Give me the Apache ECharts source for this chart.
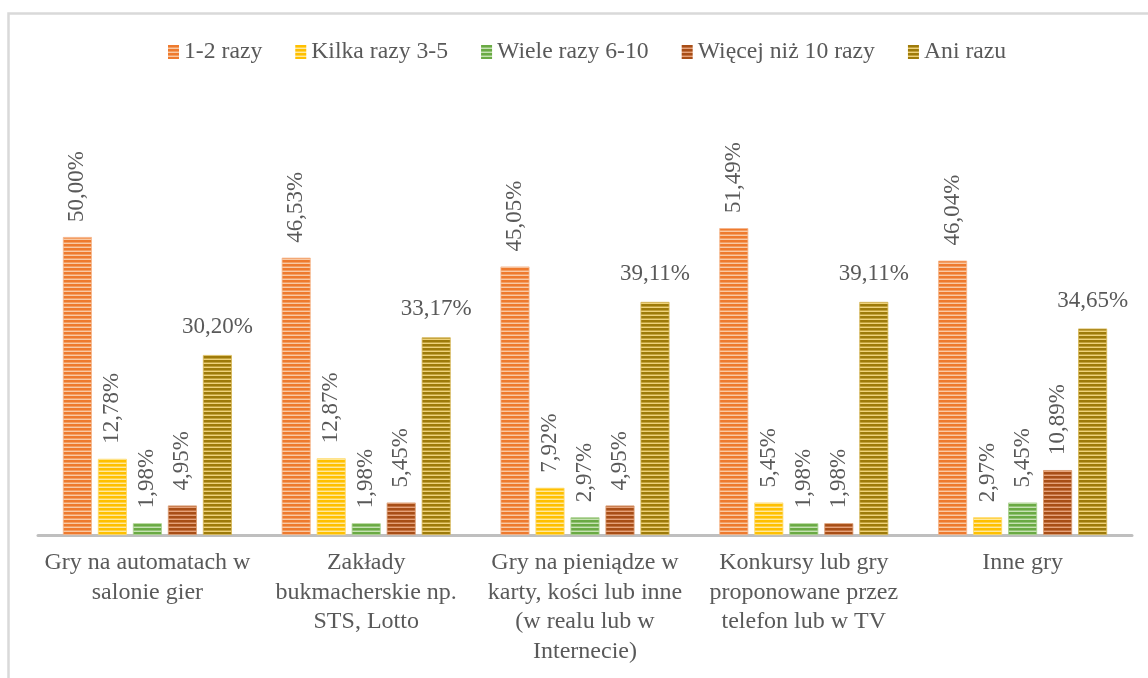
<!DOCTYPE html>
<html>
<head>
<meta charset="utf-8">
<script src="https://cdn.jsdelivr.net/npm/echarts@6/dist/echarts.min.js"></script>
<style>
html,body{margin:0;padding:0;background:#fff;}
#chart{width:1148px;height:678px;}
</style>
</head>
<body>
<div id="chart"></div>
<script>
var categories = [
  "Gry na automatach w\nsalonie gier",
  "Zakłady\nbukmacherskie np.\nSTS, Lotto",
  "Gry na pieniądze w\nkarty, kości lub inne\n(w realu lub w\nInternecie)",
  "Konkursy lub gry\nproponowane przez\ntelefon lub w TV",
  "Inne gry"
];
var seriesNames = ["1-2 razy", "Kilka razy 3-5", "Wiele razy 6-10", "Więcej niż 10 razy", "Ani razu"];
var s1 = [50.00, 46.53, 45.05, 51.49, 46.04];
var s2 = [12.78, 12.87, 7.92, 5.45, 2.97];
var s3 = [1.98, 1.98, 2.97, 1.98, 5.45];
var s4 = [4.95, 5.45, 4.95, 1.98, 10.89];
var s5 = [30.20, 33.17, 39.11, 39.11, 34.65];
var allValues = [s1, s2, s3, s4, s5];

var palette = [
  {dark: "#EE7A2E", light: "#F9C9A4", border: "#F5B58A"},
  {dark: "#FFC000", light: "#FFE9A0", border: "#FFD966"},
  {dark: "#6AAA44", light: "#C6E2B3", border: "#A9D18E"},
  {dark: "#A84E17", light: "#E6A27A", border: "#D99A70"},
  {dark: "#9E7B0A", light: "#EFD27A", border: "#D6B656"}
];

function stripe(c) {
  var cv = document.createElement("canvas");
  cv.width = 4; cv.height = 4;
  var ctx = cv.getContext("2d");
  ctx.fillStyle = c.dark; ctx.fillRect(0, 0, 4, 4);
  ctx.fillStyle = c.light; ctx.fillRect(0, 3, 4, 1);
  ctx.globalAlpha = 0.45; ctx.fillRect(0, 2, 4, 1);
  return cv;
}

var font = "Liberation Serif";
var textColor = "#595959";

var series = seriesNames.map(function (name, i) {
  var horizontal = (i === 4);
  return {
    name: name,
    type: "bar",
    data: allValues[i],
    barWidth: 29,
    barGap: "20.7%",
    itemStyle: {
      color: {image: stripe(palette[i]), repeat: "repeat"},
      borderColor: palette[i].border,
      borderWidth: 0.8
    },
    label: {
      show: true,
      position: "top",
      distance: horizontal ? 28 : 15,
      rotate: horizontal ? 0 : 90,
      align: horizontal ? "center" : "left",
      verticalAlign: "middle",
      fontFamily: font,
      fontSize: 23,
      color: textColor,
      formatter: function (p) { return p.value.toFixed(2).replace(".", ",") + "%"; }
    }
  };
});

var chart = echarts.init(document.getElementById("chart"), null, {renderer: "canvas"});
chart.setOption({
  animation: false,
  backgroundColor: "#fff",
  graphic: [{
    type: "rect",
    shape: {x: 8.5, y: 13.5, width: 1300, height: 900},
    style: {fill: "none", stroke: "#D9D9D9", lineWidth: 2.5},
    silent: true
  }],
  legend: {
    top: 35,
    left: 163,
    itemWidth: 11,
    itemHeight: 14,
    itemGap: 33,
    icon: "rect",
    textStyle: {fontFamily: font, fontSize: 23.7, color: textColor},
    data: seriesNames.map(function (n, i) {
      return {name: n, itemStyle: {color: {image: stripe(palette[i]), repeat: "repeat"}, borderWidth: 0}};
    })
  },
  grid: {left: 38, right: 16, top: 177.4, height: 357.6, containLabel: false},
  xAxis: {
    type: "category",
    data: categories,
    axisLine: {lineStyle: {color: "#BFBFBF", width: 3}},
    axisTick: {show: false},
    axisLabel: {
      interval: 0,
      margin: 13,
      fontFamily: font,
      fontSize: 24,
      lineHeight: 29.5,
      color: textColor
    }
  },
  yAxis: {
    type: "value",
    min: 0,
    max: 60,
    show: false,
    splitLine: {show: false}
  },
  series: series
});
</script>
</body>
</html>
